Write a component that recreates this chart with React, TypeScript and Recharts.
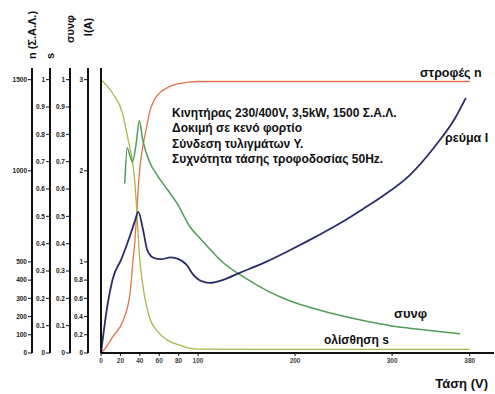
import { ComposedChart, Line, XAxis, YAxis } from "recharts";

// tick values for each axis
const voltTicks = [0, 20, 40, 60, 80, 100, 200, 300, 380];
const rpmTicks = [0, 100, 200, 300, 400, 500, 1000, 1500];
const slipTicks = [0, 0.1, 0.2, 0.3, 0.4, 0.5, 0.6, 0.7, 0.8, 0.9, 1];
const pfTicks = [0, 0.1, 0.2, 0.3, 0.4, 0.5, 0.6, 0.7, 0.8, 0.9, 1];
const ampTicks = [0, 0.2, 0.4, 0.6, 0.8, 1, 2, 3];

// speed n (Σ.Α.Λ.) vs voltage
const speedVolt = [0, 5, 12, 23, 30, 33, 35, 37, 39, 41, 44, 47, 50, 55, 60, 70, 80, 90, 100, 380];
const speedRpm = [0, 30, 88, 181, 330, 510, 620, 785, 950, 1060, 1160, 1240, 1320, 1390, 1425, 1460, 1478, 1486, 1490, 1490];

// slip s
const slipVolt = [0, 12, 22, 28, 32, 35, 37, 38.5, 40, 43, 50, 58, 68, 80, 92, 100, 200, 300, 380];
const slipVal = [1, 0.95, 0.88, 0.78, 0.71, 0.62, 0.51, 0.42, 0.34, 0.25, 0.13, 0.08, 0.048, 0.03, 0.017, 0.014, 0.013, 0.013, 0.013];

// power factor συνφ
const pfVolt = [24.5, 27, 30, 32.5, 36, 39.5, 43, 50, 58, 68, 78, 92, 102, 126, 146, 170, 195, 222, 249, 275, 298, 325, 350, 370];
const pfVal = [0.62, 0.75, 0.72, 0.7, 0.76, 0.85, 0.78, 0.7, 0.65, 0.6, 0.55, 0.46, 0.42, 0.33, 0.28, 0.23, 0.19, 0.16, 0.135, 0.115, 0.1, 0.088, 0.078, 0.07];

// current I (A)
const curVolt = [0, 6, 12, 21, 30, 35, 38.5, 43, 48, 55, 62, 72, 80, 88, 95, 100, 106, 112, 125, 143, 170, 195, 222, 249, 270, 290, 318, 345, 365, 376];
const curAmp = [0, 0.48, 0.81, 1.03, 1.29, 1.45, 1.55, 1.37, 1.12, 1.04, 1.03, 1.05, 1.03, 0.97, 0.86, 0.81, 0.78, 0.77, 0.8, 0.88, 1.0, 1.13, 1.28, 1.44, 1.58, 1.72, 1.95, 2.28, 2.58, 2.8];

const zip = (xs: number[], ys: number[]) => xs.map((v, i) => ({ v, y: ys[i] }));

const speedData = zip(speedVolt, speedRpm);
const slipData = zip(slipVolt, slipVal);
const pfData = zip(pfVolt, pfVal);
const curData = zip(curVolt, curAmp);

const FONT = "'Liberation Sans', Arial, sans-serif";
const tickStyle = { fontSize: 6.5, fill: "#222", fontFamily: FONT, fontWeight: 700 };
const xTickStyle = { fontSize: 6.5, fill: "#444", fontFamily: FONT, fontWeight: 700 };
const axisStroke = { stroke: "#111", strokeWidth: 2 };
const tickStroke = { stroke: "#111" };

function AxisTitle({ viewBox, text, cy }: any) {
  const x = viewBox ? viewBox.x + viewBox.width : 0;
  return (
    <text
      x={x}
      y={cy}
      transform={`rotate(-90 ${x} ${cy})`}
      textAnchor="middle"
      dominantBaseline="central"
      fontFamily={FONT}
      fontWeight={700}
      fontSize={11}
      fill="#111"
    >
      {text}
    </text>
  );
}

const ampLabel = { content: (p: any) => <AxisTitle viewBox={p.viewBox} text="I(A)" cy={27} /> };
const pfLabel = { content: (p: any) => <AxisTitle viewBox={p.viewBox} text="συνφ" cy={29} /> };
const slipLabel = { content: (p: any) => <AxisTitle viewBox={p.viewBox} text="s" cy={56} /> };
const rpmLabel = { content: (p: any) => <AxisTitle viewBox={p.viewBox} text="n (Σ.Α.Λ.)" cy={35} /> };
const xLabel = {
  value: "Τάση (V)",
  position: "insideBottomRight" as const,
  offset: 6,
  style: { fontSize: 13, fontWeight: 700, fill: "#111", fontFamily: FONT },
};

const overlay = (left: number, top: number, size: number, bold = true) => ({
  position: "absolute" as const,
  left,
  top,
  fontSize: size,
  fontFamily: FONT,
  fontWeight: bold ? 700 : 400,
  color: "#111",
  whiteSpace: "nowrap" as const,
  lineHeight: 1,
});

export default function App() {
  return (
    <div style={{ position: "absolute", left: 0, top: 0, width: 495, height: 394, background: "#fff" }}>
      <ComposedChart width={495} height={394} margin={{ top: 68, right: 1, bottom: 0, left: 0 }}>
        <XAxis
          type="number"
          dataKey="v"
          domain={[0, 405]}
          ticks={voltTicks}
          interval={0}
          allowDataOverflow
          height={41}
          tickSize={3}
          tick={xTickStyle}
          axisLine={axisStroke}
          tickLine={tickStroke}
          label={xLabel}
        />
        <YAxis yAxisId="a1" orientation="left" width={13} domain={[0, 1]} tick={false} tickLine={false} axisLine={axisStroke} />
        <YAxis
          yAxisId="a2"
          orientation="left"
          width={18}
          type="number"
          domain={[0, 3.128]}
          ticks={ampTicks}
          interval={0}
          allowDataOverflow
          tickSize={4}
          tickMargin={1}
          tick={tickStyle}
          axisLine={axisStroke}
          tickLine={tickStroke}
          label={ampLabel}
        />
        <YAxis
          yAxisId="a3"
          orientation="left"
          width={20}
          type="number"
          domain={[0, 1.0427]}
          ticks={pfTicks}
          interval={0}
          allowDataOverflow
          tickSize={4}
          tickMargin={1}
          tick={tickStyle}
          axisLine={axisStroke}
          tickLine={tickStroke}
          label={pfLabel}
        />
        <YAxis
          yAxisId="a4"
          orientation="left"
          width={18}
          type="number"
          domain={[0, 1.0427]}
          ticks={slipTicks}
          interval={0}
          allowDataOverflow
          tickSize={4}
          tickMargin={1}
          tick={tickStyle}
          axisLine={axisStroke}
          tickLine={tickStroke}
          label={slipLabel}
        />
        <YAxis
          yAxisId="a5"
          orientation="left"
          width={32}
          type="number"
          domain={[0, 1564]}
          ticks={rpmTicks}
          interval={0}
          allowDataOverflow
          tickSize={4}
          tickMargin={1}
          tick={tickStyle}
          axisLine={axisStroke}
          tickLine={tickStroke}
          label={rpmLabel}
        />
        <Line yAxisId="a5" data={speedData} dataKey="y" type="monotone" stroke="#e0734f" strokeWidth={1.3} dot={false} isAnimationActive={false} />
        <Line yAxisId="a4" data={slipData} dataKey="y" type="monotone" stroke="#adb64a" strokeWidth={1.3} dot={false} isAnimationActive={false} />
        <Line yAxisId="a3" data={pfData} dataKey="y" type="monotone" stroke="#4f9e55" strokeWidth={1.5} dot={false} isAnimationActive={false} />
        <Line yAxisId="a2" data={curData} dataKey="y" type="monotone" stroke="#2b2d6b" strokeWidth={1.8} dot={false} isAnimationActive={false} />
      </ComposedChart>
      <div style={{ ...overlay(172, 106, 12), lineHeight: "15.4px" }}>
        Κινητήρας 230/400V, 3,5kW, 1500 Σ.Α.Λ.
        <br />
        Δοκιμή σε κενό φορτίο
        <br />
        Σύνδεση τυλιγμάτων Υ.
        <br />
        Συχνότητα τάσης τροφοδοσίας 50Hz.
      </div>
      <div style={overlay(420, 67, 12.5)}>στροφές n</div>
      <div style={overlay(445, 132, 12.5)}>ρεύμα Ι</div>
      <div style={overlay(394, 307, 13)}>συνφ</div>
      <div style={overlay(324, 334, 12)}>ολίσθηση s</div>
    </div>
  );
}
